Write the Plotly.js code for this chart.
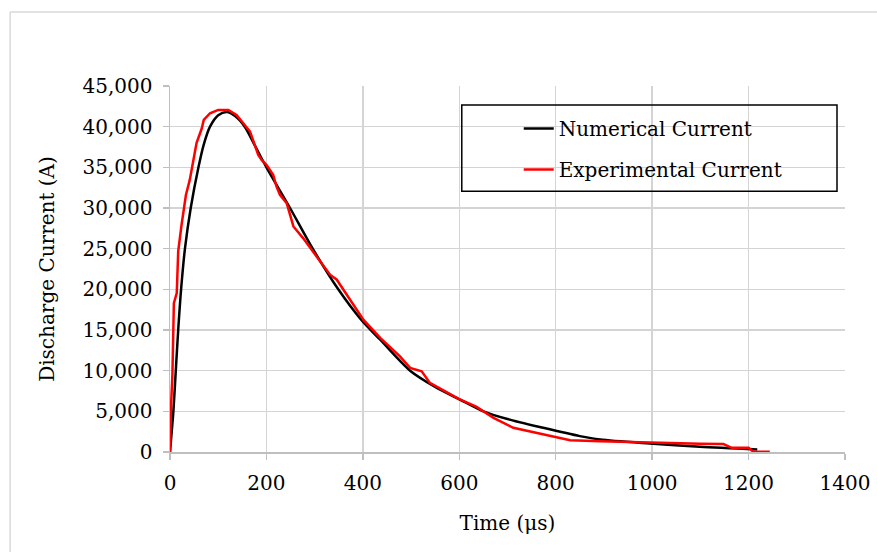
<!DOCTYPE html>
<html>
<head>
<meta charset="utf-8">
<script src="https://cdn.plot.ly/plotly-3.0.1.min.js"></script>
<style>html,body{margin:0;padding:0;background:#fff;}#chart{width:877px;height:552px;}</style>
</head>
<body>
<div id="chart"></div>
<script>
// Numerical current (time in µs, current in A)
const numTime = [0, 4, 7, 12, 17, 23, 31, 43, 59, 70, 83, 100, 118, 135, 155, 175, 200, 249, 296, 349, 396, 436, 498, 550, 601, 650, 700, 774, 850, 892, 995, 1099, 1218];
const numCurrent = [0, 2800, 5000, 10000, 15000, 20000, 25000, 30000, 35000, 37800, 40000, 41400, 41800, 41300, 40000, 37800, 35000, 30000, 25000, 20000, 16300, 13800, 10000, 8000, 6450, 5000, 4050, 2970, 1950, 1535, 1044, 638, 300];

// Experimental current
const expTime = [0, 0.5, 2, 5, 8, 14, 17, 24, 33, 41, 48, 55, 66, 70, 83, 100, 121, 138, 166, 183, 190, 200, 214, 221, 228, 242, 256, 276, 304, 332, 346, 366, 401, 436, 477, 498, 522, 539, 598, 636, 671, 712, 788, 830, 892, 995, 1100, 1148, 1165, 1200, 1210, 1244];
const expCurrent = [0, 3000, 5400, 9500, 18300, 19550, 24660, 27940, 31600, 33460, 35700, 37970, 39800, 40830, 41650, 42060, 42060, 41450, 39400, 36530, 35920, 35300, 34080, 32640, 31620, 30600, 27730, 26300, 24040, 21800, 21180, 19340, 16270, 14020, 11760, 10340, 9920, 8500, 6570, 5550, 4200, 2970, 1940, 1450, 1330, 1150, 1000, 980, 510, 510, 25, 25];

const seriesNames = ["Numerical Current", "Experimental Current"];
const xTicks = [0, 200, 400, 600, 800, 1000, 1200, 1400];
const yTicks = [0, 5000, 10000, 15000, 20000, 25000, 30000, 35000, 40000, 45000];

const FONT = "DejaVu Serif, Liberation Serif, serif";
const FS = 20;

const traces = [
  {x: numTime, y: numCurrent, name: seriesNames[0], mode: "lines", line: {color: "#000000", width: 2.5, shape: "spline", smoothing: 0.8}, legendgroup: "a"},
  {x: expTime, y: expCurrent, name: seriesNames[1], mode: "lines", line: {color: "#ff0000", width: 2.5}, legendgroup: "b"}
];

const L = 170, R = 845.5, T = 86, B = 452.5;
const px = v => (v - L) / (R - L);
const py = v => (B - v) / (B - T);

const layout = {
  width: 877, height: 552,
  margin: {l: L, r: 877 - R, t: T, b: 552 - B},
  paper_bgcolor: "#ffffff", plot_bgcolor: "#ffffff",
  font: {family: FONT, size: FS, color: "#000000"},
  showlegend: true,
  legend: {
    x: px(519), y: py(109), xanchor: "left", yanchor: "top",
    bgcolor: "rgba(0,0,0,0)", borderwidth: 0,
    font: {family: FONT, size: FS, color: "#000000"},
    traceorder: "grouped", tracegroupgap: 12
  },
  xaxis: {
    range: [0, 1400], tickvals: xTicks, tickformat: "d",
    showgrid: true, gridcolor: "#d4d4d4", gridwidth: 1.5,
    showline: true, linecolor: "#bfbfbf", linewidth: 1.5,
    ticks: "outside", ticklen: 6, tickcolor: "#bfbfbf", tickwidth: 1.5,
    ticklabelstandoff: 6,
    zeroline: false, fixedrange: true,
    tickfont: {family: FONT, size: FS, color: "#000000"},
    title: {text: "Time (μs)", font: {family: FONT, size: FS, color: "#000000"}, standoff: 22}
  },
  yaxis: {
    range: [0, 45000], tickvals: yTicks, tickformat: ",d",
    showgrid: true, gridcolor: "#d4d4d4", gridwidth: 1.5,
    showline: true, linecolor: "#bfbfbf", linewidth: 1.5,
    ticks: "outside", ticklen: 6, tickcolor: "#bfbfbf", tickwidth: 1.5,
    ticklabelstandoff: 6,
    zeroline: false, fixedrange: true,
    tickfont: {family: FONT, size: FS, color: "#000000"},
    title: {text: "Discharge Current (A)", font: {family: FONT, size: FS, color: "#000000"}, standoff: 22}
  },
  shapes: [
    {type: "rect", xref: "paper", yref: "paper", x0: px(462), x1: px(837.5), y0: py(191.5), y1: py(105), line: {color: "#000000", width: 1.5}, fillcolor: "rgba(0,0,0,0)", layer: "above"},
    {type: "line", xref: "paper", yref: "paper", x0: px(10), x1: px(900), y0: py(12), y1: py(12), line: {color: "#d9d9d9", width: 1.5}},
    {type: "line", xref: "paper", yref: "paper", x0: px(10), x1: px(10), y0: py(12), y1: py(560), line: {color: "#d9d9d9", width: 1.5}}
  ]
};

Plotly.newPlot("chart", traces, layout, {displayModeBar: false, staticPlot: true});
</script>
</body>
</html>
